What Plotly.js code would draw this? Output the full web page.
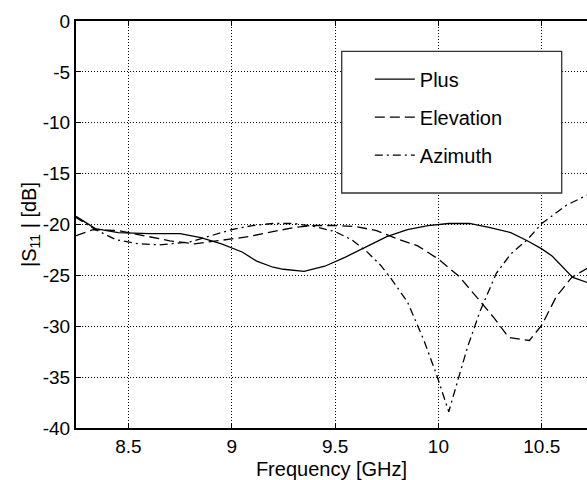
<!DOCTYPE html>
<html>
<head>
<meta charset="utf-8">
<script src="https://cdn.plot.ly/plotly-3.0.1.min.js"></script>
<style>
html, body { margin: 0; padding: 0; background: #ffffff; overflow: hidden; }
#chart { width: 587px; height: 480px; }
</style>
</head>
<body>
<div id="chart"></div>
<script>
// Frequency (GHz) and |S11| (dB)
const plusFreq = [8.246, 8.34, 8.45, 8.6, 8.75, 8.85, 8.95, 9.05, 9.12, 9.2, 9.25, 9.35, 9.45, 9.55, 9.65, 9.75, 9.85, 9.95, 10.05, 10.15, 10.25, 10.35, 10.43, 10.5, 10.55, 10.6, 10.65, 10.72];
const plusS11 = [-19.2, -20.4, -20.8, -20.9, -20.9, -21.3, -21.9, -22.7, -23.6, -24.2, -24.4, -24.6, -24.1, -23.2, -22.2, -21.2, -20.5, -20.1, -19.9, -19.9, -20.3, -20.8, -21.6, -22.4, -23.1, -24.2, -25.2, -25.7];

const elevFreq = [8.246, 8.33, 8.45, 8.55, 8.7, 8.82, 9.0, 9.08, 9.15, 9.22, 9.3, 9.4, 9.5, 9.6, 9.7, 9.8, 9.9, 10.0, 10.1, 10.2, 10.27, 10.34, 10.44, 10.5, 10.57, 10.645, 10.72];
const elevS11 = [-21.1, -20.5, -20.6, -21.0, -21.6, -21.9, -21.4, -21.2, -20.9, -20.6, -20.3, -20.1, -20.1, -20.2, -20.6, -21.4, -22.1, -23.4, -25.1, -27.5, -29.2, -31.1, -31.4, -29.9, -27.1, -25.2, -24.3];

const aziFreq = [8.246, 8.34, 8.44, 8.55, 8.65, 8.8, 8.9, 9.0, 9.1, 9.2, 9.3, 9.4, 9.5, 9.58, 9.65, 9.72, 9.77, 9.85, 9.93, 9.99, 10.05, 10.07, 10.14, 10.2, 10.28, 10.35, 10.43, 10.5, 10.62, 10.72];
const aziS11 = [-19.3, -20.5, -21.5, -21.9, -22.0, -21.7, -21.1, -20.5, -20.1, -19.9, -19.9, -20.2, -20.7, -21.5, -22.6, -24.0, -25.3, -27.6, -31.4, -34.7, -38.4, -37.0, -32.1, -28.6, -24.8, -22.9, -21.5, -19.9, -18.1, -17.1];

const seriesNames = ['Plus', 'Elevation', 'Azimuth'];
const xTickVals = [8.5, 9, 9.5, 10, 10.5];
const xTickText = ['8.5', '9', '9.5', '10', '10.5'];
const yTickVals = [0, -5, -10, -15, -20, -25, -30, -35, -40];
const yTickText = ['0', '-5', '-10', '-15', '-20', '-25', '-30', '-35', '-40'];

const FONT = 'Liberation Sans, Arial, Helvetica, sans-serif';

const traces = [
  {x: plusFreq, y: plusS11, name: seriesNames[0], legendgroup: 'a', mode: 'lines',
   line: {color: '#000000', width: 1.3, dash: 'solid'}},
  {x: elevFreq, y: elevS11, name: seriesNames[1], legendgroup: 'b', mode: 'lines',
   line: {color: '#000000', width: 1.3, dash: '10px,5px'}},
  {x: aziFreq, y: aziS11, name: seriesNames[2], legendgroup: 'c', mode: 'lines',
   line: {color: '#000000', width: 1.3, dash: '8px,4px,2px,4px'}}
];

const layout = {
  width: 587, height: 480,
  margin: {l: 76, r: 0, t: 21, b: 52},
  paper_bgcolor: '#ffffff', plot_bgcolor: '#ffffff',
  font: {family: FONT, color: '#000000', size: 19},
  showlegend: true,
  legend: {
    x: 0.575, y: 0.905, xanchor: 'left', yanchor: 'top',
    bgcolor: 'rgba(0,0,0,0)', borderwidth: 0,
    font: {family: FONT, size: 20, color: '#000000'},
    tracegroupgap: 9, itemwidth: 40, traceorder: 'grouped'
  },
  shapes: [{
    type: 'rect', xref: 'paper', yref: 'paper', layer: 'above',
    x0: 0.52, x1: 0.9505, y0: 0.5774, y1: 0.9256,
    fillcolor: '#ffffff', line: {color: '#333333', width: 1.3}
  }],
  xaxis: {
    range: [8.246, 10.719], tickvals: xTickVals, ticktext: xTickText,
    showline: true, linewidth: 2, linecolor: '#000000', mirror: 'ticks',
    ticks: 'inside', ticklen: 5, tickwidth: 1, tickcolor: '#000000',
    showgrid: true, gridcolor: '#000000', gridwidth: 1, griddash: '1px,2px',
    zeroline: false, ticklabelstandoff: 0,
    tickfont: {family: FONT, size: 19, color: '#000000'},
    title: {text: 'Frequency [GHz]', font: {family: FONT, size: 20, color: '#000000'}, standoff: 12},
    automargin: false
  },
  yaxis: {
    range: [-40, 0], tickvals: yTickVals, ticktext: yTickText,
    showline: true, linewidth: 2, linecolor: '#000000', mirror: false,
    ticks: 'inside', ticklen: 5, tickwidth: 1, tickcolor: '#000000',
    showgrid: true, gridcolor: '#000000', gridwidth: 1, griddash: '1px,2px',
    zeroline: false, ticklabelstandoff: 0,
    tickfont: {family: FONT, size: 19, color: '#000000'},
    title: {text: '|S<sub>11</sub> | [dB]', font: {family: FONT, size: 20, color: '#000000'}, standoff: 0},
    automargin: false
  }
};

Plotly.newPlot('chart', traces, layout, {displayModeBar: false, staticPlot: true});
</script>
</body>
</html>
